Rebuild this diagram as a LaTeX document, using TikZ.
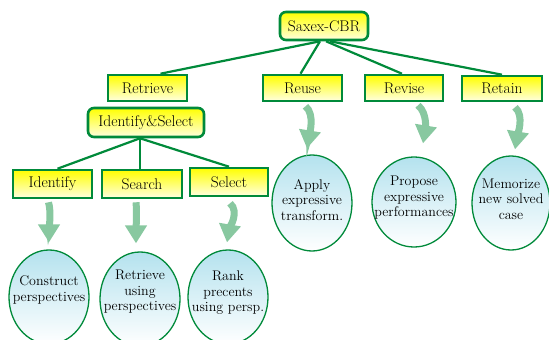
\documentclass[tikz,border=0pt]{standalone}
\usetikzlibrary{shapes.geometric,arrows.meta,calc}
\definecolor{dkgreen}{HTML}{008A3A}
\definecolor{lgreen}{HTML}{88C8A0}
\definecolor{lcyan}{HTML}{B4E2EE}
\tikzset{
  ybox/.style={rectangle, draw=dkgreen, line width=2.6pt, top color=yellow, bottom color=yellow!12, minimum width=79pt, minimum height=26pt, inner sep=0pt, font=\rmfamily\fontsize{15.5}{17}\selectfont},
  rbox/.style={ybox, rounded corners=6pt},
  oval/.style={ellipse, draw=dkgreen, line width=1.3pt, top color=lcyan, bottom color=white, minimum width=80pt, minimum height=94pt, inner sep=0pt},
  ovaltext/.style={align=center, inner sep=0pt, font=\rmfamily\fontsize{14}{15.5}\selectfont},
  link/.style={draw=dkgreen, line width=2.2pt},
  garrow/.style={draw=lgreen, line width=7pt, -{Triangle[length=18pt, width=21pt]}}
}
\begin{document}
\begin{tikzpicture}[x=1pt,y=-1pt]
\useasboundingbox (0,0) rectangle (549,340);
% top level
\node[rbox, minimum width=88pt, minimum height=28pt] (sax) at (324,26) {Saxex-CBR};
\node[ybox] (ret) at (147.5,88) {Retrieve};
\node[ybox] (reuse) at (302.5,88) {Reuse};
\node[ybox, minimum width=78pt] (rev) at (404,88) {Revise};
\node[ybox, minimum width=80pt, minimum height=25pt] (retain) at (502,88.5) {Retain};
\node[rbox, minimum width=116pt, minimum height=29pt] (idsel) at (146,122.5) {Identify\&Select};
\node[ybox, minimum height=28pt] (ident) at (52.5,184) {Identify};
\node[ybox, minimum width=80pt, minimum height=28pt] (search) at (142,184) {Search};
\node[ybox, minimum width=78pt, minimum height=28pt] (select) at (229,182) {Select};
% ellipses
\node[oval, minimum height=96pt] (apply) at (312,203) {};
\node[oval, minimum width=84pt, minimum height=90pt] (propose) at (414,202) {};
\node[oval, minimum width=78pt] (memo) at (511,203) {};
\node[oval] (cons) at (49,297) {};
\node[oval] (retu) at (140,299) {};
\node[oval] (rank) at (228,297) {};
\node[ovaltext] (applyt) at ($(apply)+(0,-3)$) {Apply\\expressive\\transform.};
\node[ovaltext] (proposet) at ($(propose)+(0,-4)$) {Propose\\expressive\\performances};
\node[ovaltext] (memot) at ($(memo)+(0,-4)$) {Memorize\\new solved\\case};
\node[ovaltext] (const) at ($(cons)+(0,-7)$) {Construct\\perspectives};
\node[ovaltext] (retut) at ($(retu)+(0,-7)$) {Retrieve\\using\\perspectives};
\node[ovaltext] (rankt) at ($(rank)+(0,-4)$) {Rank\\precents\\using persp.};
% links
\draw[link] ([xshift=-4pt]sax.south) -- ([xshift=13pt]ret.north);
\draw[link] ([xshift=-4pt]sax.south) -- ([xshift=-2pt]reuse.north);
\draw[link] ([xshift=2pt]sax.south) -- ([xshift=-2pt]rev.north);
\draw[link] ([xshift=6pt]sax.south) -- (retain.north);
\draw[link] ([xshift=-6pt]idsel.south) -- ([xshift=5pt]ident.north);
\draw[link] ([xshift=-6pt]idsel.south) -- ([xshift=-2pt]search.north);
\draw[link] ([xshift=-6pt]idsel.south) -- (select.north);
% green arrows
\draw[garrow] ($(ident.south)+(-4,3)$) .. controls +(3,10) and +(0,-12) .. ($(cons.north)+(0,-7)$);
\draw[garrow] ($(search.south)+(-6,3)$) .. controls +(1,10) and +(0,-12) .. ($(retu.north)+(-4,-8)$);
\draw[garrow] ($(select.south)+(1,6)$) .. controls +(10,8) and +(2,-12) .. ($(rank.north)+(-1,-7)$);
\draw[garrow] ($(reuse.south)+(3,4)$) .. controls +(10,8) and +(2,-12) .. ($(apply.north)+(-5,-6)$);
\draw[garrow] ($(rev.south)+(14,3)$) .. controls +(10,8) and +(2,-12) .. ($(propose.north)+(9,-13)$);
\draw[garrow] ($(retain.south)+(13,5)$) .. controls +(10,8) and +(2,-12) .. ($(memo.north)+(4,-6)$);
\end{tikzpicture}
\end{document}
